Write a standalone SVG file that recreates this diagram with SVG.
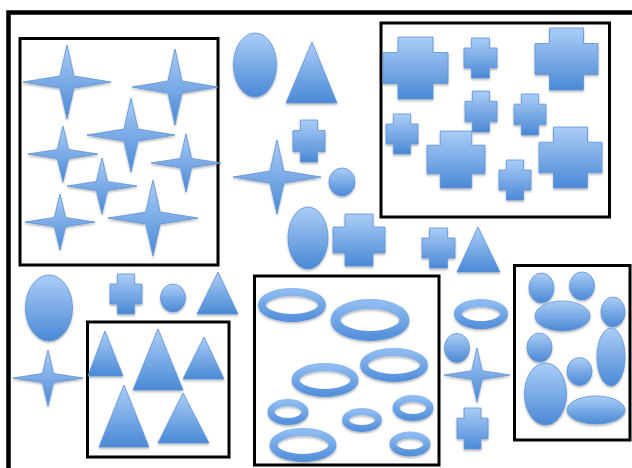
<svg xmlns="http://www.w3.org/2000/svg" width="632" height="468" viewBox="0 0 632 468">
<defs>
<linearGradient id="g" x1="0" y1="0" x2="0" y2="1">
<stop offset="0" stop-color="#abcdf6"/>
<stop offset="1" stop-color="#4a89d6"/>
</linearGradient>
<linearGradient id="gr" x1="0" y1="0" x2="0" y2="1">
<stop offset="0" stop-color="#8dbaf0"/>
<stop offset="1" stop-color="#5792dc"/>
</linearGradient>
<filter id="sh" x="-20%" y="-20%" width="140%" height="150%">
<feDropShadow dx="0" dy="1.5" stdDeviation="1.2" flood-color="#000" flood-opacity="0.3"/>
</filter>
</defs>
<style>
.frame{fill:none;stroke:#000;stroke-width:3}
.s{fill:url(#g);stroke:#5f93d6;stroke-width:0.8;filter:url(#sh)}
.r{fill:none;stroke:url(#gr);filter:url(#sh)}
</style>
<rect width="632" height="468" fill="#fff"/>
<g id="frames">
<rect x="8.5" y="12.5" width="700" height="500" fill="none" stroke="#000" stroke-width="4.5"/>
<rect class="frame" x="20" y="38.5" width="198" height="226.5"/>
<rect class="frame" x="381" y="23" width="228.5" height="194" stroke-width="3.5"/>
<rect class="frame" x="87.5" y="322" width="141.5" height="135"/>
<rect class="frame" x="254.5" y="276" width="184.5" height="189"/>
<rect class="frame" x="514.5" y="265.5" width="115.5" height="174.5"/>
</g>
<g id="stars-box">
<path class="s" d="M67,45 L74,76 L111,82 L74,88 L67,119 L60,88 L23,82 L60,76 Z"/>
<path class="s" d="M175,49 L182,81 L218,87 L182,93 L175,125 L168,93 L132,87 L168,81 Z"/>
<path class="s" d="M131,98 L138,129 L175,135 L138,141 L131,172 L124,141 L87,135 L124,129 Z"/>
<path class="s" d="M63,126 L68.6,149.5 L98,154 L68.6,158.5 L63,182 L57.4,158.5 L28,154 L57.4,149.5 Z"/>
<path class="s" d="M186,134 L191.6,158.4 L221,163 L191.6,167.6 L186,192 L180.4,167.6 L151,163 L180.4,158.4 Z"/>
<path class="s" d="M102,158 L107.6,181.5 L137,186 L107.6,190.5 L102,214 L96.4,190.5 L67,186 L96.4,181.5 Z"/>
<path class="s" d="M60,194 L65.6,217.5 L95,222 L65.6,226.5 L60,250 L54.4,226.5 L25,222 L54.4,217.5 Z"/>
<path class="s" d="M153,180 L160.2,212 L198,218 L160.2,224 L153,256 L145.8,224 L108,218 L145.8,212 Z"/>
</g>
<g id="loose-shapes">
<ellipse class="s" cx="255" cy="65" rx="21.5" ry="32"/>
<polygon class="s" points="312,42 286,103 337,103"/>
<path class="s" d="M300.4,120 H317.6 V130.5 H325 V151.5 H317.6 V162 H300.4 V151.5 H293 V130.5 H300.4 Z"/>
<path class="s" d="M277,140 L284,171 L321,177 L284,183 L277,214 L270,183 L233,177 L270,171 Z"/>
<ellipse class="s" cx="342" cy="182" rx="13" ry="14"/>
<ellipse class="s" cx="308" cy="238" rx="20" ry="31"/>
<path class="s" d="M345,214 H373 V227 H385 V253 H373 V266 H345 V253 H333 V227 H345 Z"/>
<ellipse class="s" cx="49" cy="308" rx="23.5" ry="33"/>
<path class="s" d="M117.4,274 H134.6 V284 H142 V304 H134.6 V314 H117.4 V304 H110 V284 H117.4 Z"/>
<ellipse class="s" cx="173" cy="298" rx="12.5" ry="14"/>
<polygon class="s" points="218,272 197,314 238,314"/>
<path class="s" d="M48,350 L53.6,373.5 L83,378 L53.6,382.5 L48,406 L42.4,382.5 L13,378 L42.4,373.5 Z"/>
<path class="s" d="M429.6,228 H447.4 V238 H455 V258 H447.4 V268 H429.6 V258 H422 V238 H429.6 Z"/>
<polygon class="s" points="478,227 457,272 500,272"/>
<ellipse class="r" cx="481" cy="314" rx="23" ry="11" stroke-width="8"/>
<ellipse class="s" cx="457" cy="348" rx="12.5" ry="14.5"/>
<path class="s" d="M477,348 L482.3,370.7 L510,375 L482.3,379.3 L477,402 L471.7,379.3 L444,375 L471.7,370.7 Z"/>
<path class="s" d="M464.1,408 H480.9 V418.2 H488 V438.8 H480.9 V449 H464.1 V438.8 H457 V418.2 H464.1 Z"/>
</g>
<g id="crosses-box">
<path class="s" d="M398,37 H433 V52.5 H448 V83.5 H433 V99 H398 V83.5 H383 V52.5 H398 Z"/>
<path class="s" d="M471.6,38 H489.4 V48 H497 V68 H489.4 V78 H471.6 V68 H464 V48 H471.6 Z"/>
<path class="s" d="M549.5,28 H583.5 V43.5 H598 V74.5 H583.5 V90 H549.5 V74.5 H535 V43.5 H549.5 Z"/>
<path class="s" d="M472.4,91 H489.6 V101.2 H497 V121.8 H489.6 V132 H472.4 V121.8 H465 V101.2 H472.4 Z"/>
<path class="s" d="M521.4,94 H538.6 V104.2 H546 V124.8 H538.6 V135 H521.4 V124.8 H514 V104.2 H521.4 Z"/>
<path class="s" d="M393.4,114 H410.6 V124 H418 V144 H410.6 V154 H393.4 V144 H386 V124 H393.4 Z"/>
<path class="s" d="M440.3,131 H471.7 V145.2 H485 V173.8 H471.7 V188 H440.3 V173.8 H427 V145.2 H440.3 Z"/>
<path class="s" d="M506.4,160 H523.6 V170 H531 V190 H523.6 V200 H506.4 V190 H499 V170 H506.4 Z"/>
<path class="s" d="M553.5,127 H587.5 V142.2 H602 V172.8 H587.5 V188 H553.5 V172.8 H539 V142.2 H553.5 Z"/>
</g>
<g id="triangles-box">
<polygon class="s" points="105,331 88,376 123,376"/>
<polygon class="s" points="158,329 133,390 183,390"/>
<polygon class="s" points="204,337 183,379 224,379"/>
<polygon class="s" points="124,385 99,447 149,447"/>
<polygon class="s" points="183,393 158,443 209,443"/>
</g>
<g id="rings-box">
<ellipse class="r" cx="292" cy="305" rx="30" ry="13" stroke-width="8"/>
<ellipse class="r" cx="370" cy="320" rx="34.5" ry="16" stroke-width="10"/>
<ellipse class="r" cx="325" cy="380" rx="29.5" ry="13" stroke-width="8"/>
<ellipse class="r" cx="394" cy="365" rx="30" ry="13" stroke-width="8"/>
<ellipse class="r" cx="288" cy="412" rx="17" ry="9.5" stroke-width="7"/>
<ellipse class="r" cx="362" cy="420" rx="16.5" ry="8.5" stroke-width="7"/>
<ellipse class="r" cx="413" cy="408" rx="17" ry="9.5" stroke-width="7"/>
<ellipse class="r" cx="303" cy="445" rx="29.5" ry="13" stroke-width="8"/>
<ellipse class="r" cx="410" cy="444" rx="17" ry="9" stroke-width="7"/>
</g>
<g id="ellipses-box">
<ellipse class="s" cx="541.5" cy="288" rx="12.5" ry="15"/>
<ellipse class="s" cx="582" cy="286" rx="12.5" ry="14"/>
<ellipse class="s" cx="562.5" cy="316" rx="27.5" ry="15"/>
<ellipse class="s" cx="613" cy="312" rx="12" ry="15"/>
<ellipse class="s" cx="539.5" cy="347.5" rx="12.5" ry="14.5"/>
<ellipse class="s" cx="611" cy="357" rx="14" ry="29"/>
<ellipse class="s" cx="579.5" cy="371.5" rx="12.5" ry="14"/>
<ellipse class="s" cx="545.5" cy="394" rx="21" ry="31"/>
<ellipse class="s" cx="596" cy="410" rx="29" ry="14"/>
</g>
</svg>
